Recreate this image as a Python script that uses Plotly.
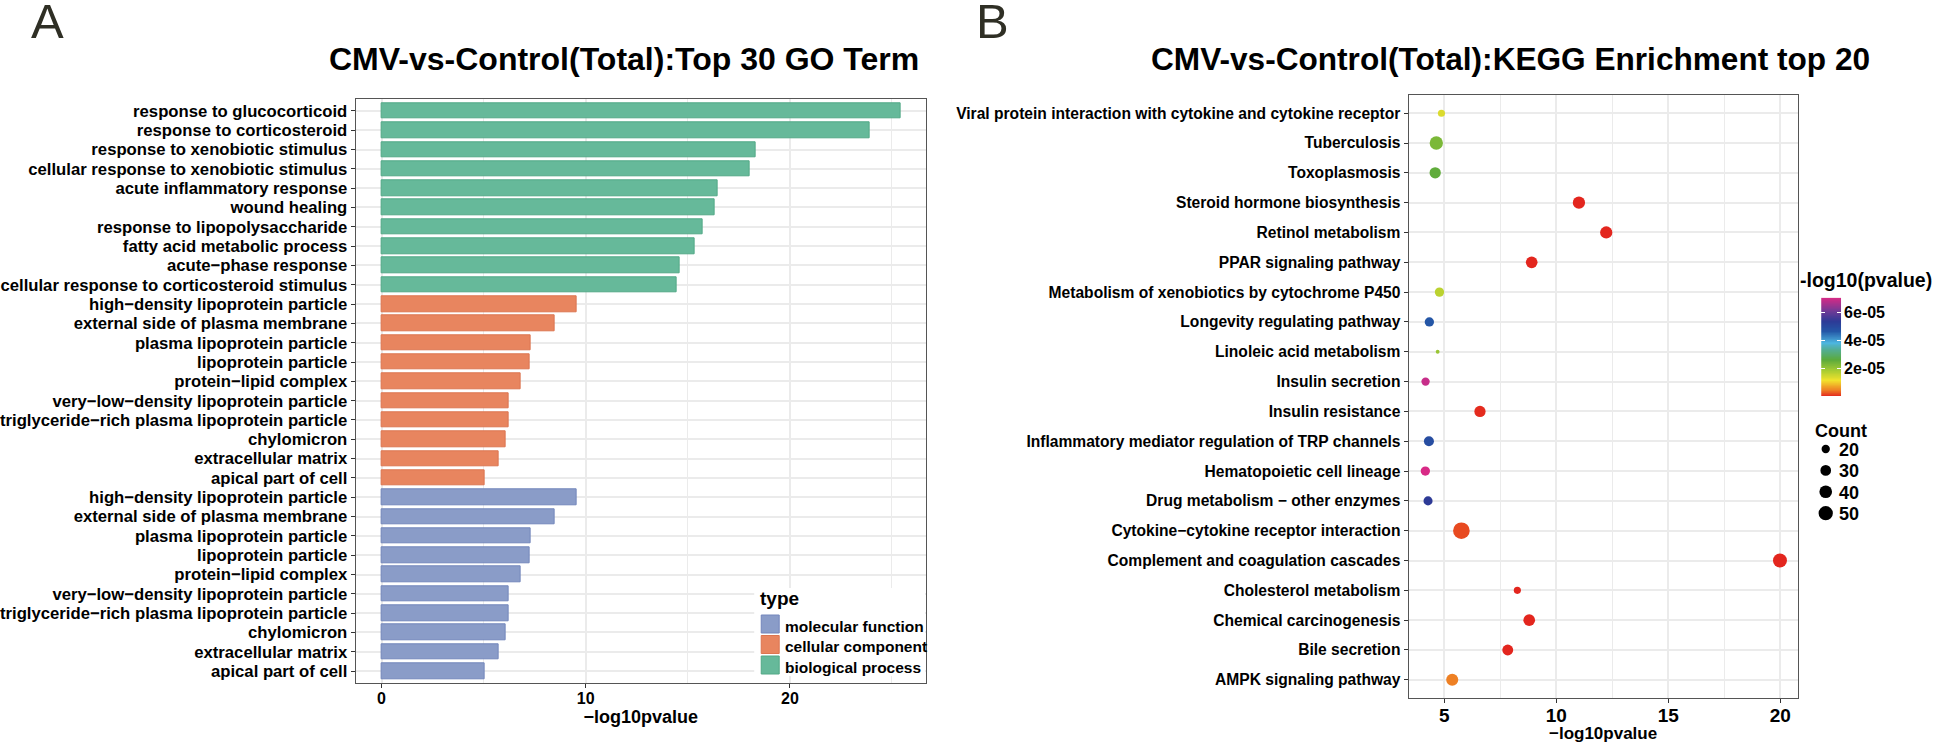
import numpy as np
import plotly.graph_objects as go

# ---------------- data: panel A (GO terms, top to bottom) ----------------
bp_terms = ["response to glucocorticoid", "response to corticosteroid",
            "response to xenobiotic stimulus", "cellular response to xenobiotic stimulus",
            "acute inflammatory response", "wound healing",
            "response to lipopolysaccharide", "fatty acid metabolic process",
            "acute\u2212phase response", "cellular response to corticosteroid stimulus"]
bp_values = [25.44, 23.91, 18.32, 18.01, 16.45, 16.30, 15.75, 15.32, 14.59, 14.43]

cc_terms = ["high\u2212density lipoprotein particle", "external side of plasma membrane",
            "plasma lipoprotein particle", "lipoprotein particle", "protein\u2212lipid complex",
            "very\u2212low\u2212density lipoprotein particle",
            "triglyceride\u2212rich plasma lipoprotein particle", "chylomicron",
            "extracellular matrix", "apical part of cell"]
cc_values = [9.54, 8.47, 7.28, 7.27, 6.79, 6.21, 6.20, 6.09, 5.72, 5.05]

mf_terms = ["high\u2212density lipoprotein particle", "external side of plasma membrane",
            "plasma lipoprotein particle", "lipoprotein particle", "protein\u2212lipid complex",
            "very\u2212low\u2212density lipoprotein particle",
            "triglyceride\u2212rich plasma lipoprotein particle", "chylomicron",
            "extracellular matrix", "apical part of cell"]
mf_values = [9.54, 8.47, 7.28, 7.27, 6.79, 6.21, 6.20, 6.09, 5.72, 5.05]

type_names = ["molecular function", "cellular component", "biological process"]

# ---------------- data: panel B (KEGG, top to bottom) ----------------
kegg_terms = ["Viral protein interaction with cytokine and cytokine receptor",
              "Tuberculosis", "Toxoplasmosis", "Steroid hormone biosynthesis",
              "Retinol metabolism", "PPAR signaling pathway",
              "Metabolism of xenobiotics by cytochrome P450",
              "Longevity regulating pathway", "Linoleic acid metabolism",
              "Insulin secretion", "Insulin resistance",
              "Inflammatory mediator regulation of TRP channels",
              "Hematopoietic cell lineage", "Drug metabolism \u2212 other enzymes",
              "Cytokine\u2212cytokine receptor interaction",
              "Complement and coagulation cascades", "Cholesterol metabolism",
              "Chemical carcinogenesis", "Bile secretion", "AMPK signaling pathway"]
kegg_neglogp = [4.87, 4.64, 4.59, 11.01, 12.23, 8.90, 4.78, 4.33, 4.70, 4.16,
                6.59, 4.31, 4.15, 4.27, 5.76, 19.99, 8.26, 8.79, 7.83, 5.35]
kegg_count = [16, 44, 33, 38, 38, 35, 24, 24, 8, 20,
              33, 27, 24, 23, 66, 48, 16, 35, 31, 37]
count_legend = [20, 30, 40, 50]
cbar_ticks = [2e-05, 4e-05, 6e-05]
cbar_ticktext = ["2e-05", "4e-05", "6e-05"]

# ---------------- styling helpers ----------------
W, H = 1946, 743
def fx(px):
    return px / W
def fy(py):
    return 1 - py / H

FONT = "Liberation Sans"
BOLD = dict(family=FONT, weight="bold", color="black")
GRID = "#EBEBEB"
FRAME = "#555555"

def marker_diam(c):
    c = np.asarray(c, dtype=float)
    return np.sqrt(np.maximum(4.52 * c - 21.5, 4.0))

type_style = {
    "molecular function": ("#8A9CC8", "#7386BB"),
    "cellular component": ("#E8855F", "#DC7550"),
    "biological process": ("#66B99A", "#52A886"),
}

rainbow = [[0.0, "#E3261E"], [0.06, "#EE7D24"], [0.16, "#F2E22C"],
           [0.26, "#A8CC32"], [0.37, "#5BAA3C"], [0.48, "#52AE9C"],
           [0.54, "#4DB6E0"], [0.66, "#2456A6"], [0.76, "#2D3A96"],
           [0.86, "#6E3A96"], [1.0, "#D82A86"]]

fig = go.Figure()

# ---------------- panel A bars ----------------
n_bp, n_cc, n_mf = len(bp_terms), len(cc_terms), len(mf_terms)
pos_bp = np.arange(1, n_bp + 1)
pos_cc = np.arange(n_bp + 1, n_bp + n_cc + 1)
pos_mf = np.arange(n_bp + n_cc + 1, n_bp + n_cc + n_mf + 1)
all_terms = bp_terms + cc_terms + mf_terms
all_pos = np.concatenate([pos_bp, pos_cc, pos_mf])

for name, vals, pos in [("molecular function", mf_values, pos_mf),
                        ("cellular component", cc_values, pos_cc),
                        ("biological process", bp_values, pos_bp)]:
    fill, edge = type_style[name]
    fig.add_trace(go.Bar(x=vals, y=pos, orientation="h", name=name, width=0.8,
                         marker=dict(color=fill, line=dict(color=edge, width=1)),
                         xaxis="x", yaxis="y", showlegend=False))

# ---------------- panel B dots ----------------
pvals = 10.0 ** (-np.asarray(kegg_neglogp))
pmax = float(pvals.max())
fig.add_trace(go.Scatter(
    x=kegg_neglogp, y=kegg_terms, mode="markers", xaxis="x2", yaxis="y2",
    showlegend=False, name="KEGG",
    marker=dict(size=marker_diam(kegg_count), color=pvals, colorscale=rainbow,
                cmin=0, cmax=pmax, line=dict(width=0), opacity=1, showscale=False)))

# ---------------- colour key for panel B (gradient on its own small axes) ----------------
grad = np.linspace(0, pmax, 256)
fig.add_trace(go.Heatmap(z=grad.reshape(-1, 1), x=[0], y=grad, colorscale=rainbow,
                         zmin=0, zmax=pmax, showscale=False, hoverinfo="skip",
                         xaxis="x3", yaxis="y3"))

axis_common = dict(showline=True, mirror=True, linecolor=FRAME, linewidth=1,
                   ticks="outside", ticklen=4, tickcolor="#333333", zeroline=False,
                   showgrid=True, gridcolor=GRID, gridwidth=1.5)

fig.update_layout(
    width=W, height=H, margin=dict(l=0, r=0, t=0, b=0),
    paper_bgcolor="white", plot_bgcolor="white", bargap=0, showlegend=False,
    xaxis=dict(axis_common, domain=[fx(354), fx(925)], anchor="y",
               range=[-1.27, 26.67], tickmode="linear", tick0=0, dtick=10,
               minor=dict(dtick=5, tick0=0, showgrid=True, gridcolor=GRID, gridwidth=1),
               tickfont=dict(BOLD, size=16), ticklabelstandoff=-3,
               title=dict(text="\u2212log10pvalue", font=dict(BOLD, size=18), standoff=0)),
    yaxis=dict(axis_common, domain=[fy(682.7), fy(99.3)], anchor="x",
               range=[len(all_terms) + 0.6, 0.4], tickmode="array",
               tickvals=all_pos, ticktext=all_terms, tickfont=dict(BOLD, size=16.7)),
    xaxis2=dict(axis_common, domain=[fx(1408), fx(1797.5)], anchor="y2",
                range=[3.40, 20.78], tickmode="linear", tick0=5, dtick=5,
                minor=dict(dtick=2.5, tick0=5, showgrid=True, gridcolor=GRID, gridwidth=1),
                tickfont=dict(BOLD, size=19), ticklabelstandoff=-4,
                title=dict(text="\u2212log10pvalue", font=dict(BOLD, size=17), standoff=0)),
    yaxis2=dict(axis_common, domain=[fy(697.7), fy(95.3)], anchor="x2",
                type="category", categoryorder="array", categoryarray=kegg_terms,
                range=[len(kegg_terms) - 0.4, -0.6], tickfont=dict(BOLD, size=15.6)),
    xaxis3=dict(domain=[fx(1821), fx(1841)], anchor="y3", range=[-0.5, 0.5],
                visible=False, fixedrange=True),
    yaxis3=dict(domain=[fy(396), fy(297.7)], anchor="x3", range=[0, pmax],
                side="right", showline=False, showgrid=False, zeroline=False,
                tickmode="array", tickvals=cbar_ticks, ticktext=cbar_ticktext,
                ticks="inside", ticklen=4, tickcolor="white", tickwidth=1,
                mirror="ticks", ticklabelstandoff=2,
                tickfont=dict(BOLD, size=16), fixedrange=True),
)

shapes = []
annotations = []

# ---------------- manual legend for panel A ----------------
shapes.append(dict(type="rect", xref="paper", yref="paper",
                   x0=fx(753), x1=fx(924), y0=fy(676), y1=fy(588),
                   fillcolor="white", line=dict(width=0), layer="above"))
annotations.append(dict(text="type", x=fx(757), y=fy(598), xanchor="left",
                        yanchor="middle", font=dict(BOLD, size=19)))
for i, name in enumerate(type_names):
    fill, edge = type_style[name]
    cy = 624 + i * 20.5
    shapes.append(dict(type="rect", xref="paper", yref="paper",
                       x0=fx(760), x1=fx(778), y0=fy(cy + 9), y1=fy(cy - 9),
                       fillcolor=fill, line=dict(color=edge, width=1), layer="above"))
    annotations.append(dict(text=name, x=fx(782), y=fy(cy + 2), xanchor="left",
                            yanchor="middle", font=dict(BOLD, size=15.5)))

# ---------------- manual size legend for panel B ----------------
annotations.append(dict(text="Count", x=fx(1813), y=fy(431), xanchor="left",
                        yanchor="middle", font=dict(BOLD, size=18)))
for i, c in enumerate(count_legend):
    cy = 449 + i * 21.4
    d = float(marker_diam([c])[0])
    shapes.append(dict(type="circle", xref="paper", yref="paper",
                       xsizemode="pixel", ysizemode="pixel",
                       xanchor=fx(1825.6), yanchor=fy(cy),
                       x0=-d / 2, x1=d / 2, y0=-d / 2, y1=d / 2,
                       fillcolor="black", line=dict(width=0), layer="above"))
    annotations.append(dict(text=str(c), x=fx(1837), y=fy(cy + 1), xanchor="left",
                            yanchor="middle", font=dict(BOLD, size=18)))

# ---------------- titles, panel letters, colourbar title ----------------
annotations += [
    dict(text="A", x=fx(27), y=fy(21), xanchor="left", yanchor="middle",
         font=dict(family=FONT, size=49, color="#2F2F25")),
    dict(text="B", x=fx(973), y=fy(21), xanchor="left", yanchor="middle",
         font=dict(family=FONT, size=49, color="#2F2F25")),
    dict(text="CMV-vs-Control(Total):Top 30 GO Term", x=fx(623), y=fy(59),
         xanchor="center", yanchor="middle", font=dict(BOLD, size=32)),
    dict(text="CMV-vs-Control(Total):KEGG Enrichment top 20", x=fx(1510), y=fy(59),
         xanchor="center", yanchor="middle", font=dict(BOLD, size=31.6)),
    dict(text="-log10(pvalue)", x=fx(1798), y=fy(280), xanchor="left", yanchor="middle",
         font=dict(BOLD, size=19.5)),
]
for a in annotations:
    a.update(xref="paper", yref="paper", showarrow=False)

fig.update_layout(shapes=shapes, annotations=annotations)

fig.write_html("out.html", config={"displayModeBar": False},
               post_script="document.body.style.margin='0px';")
